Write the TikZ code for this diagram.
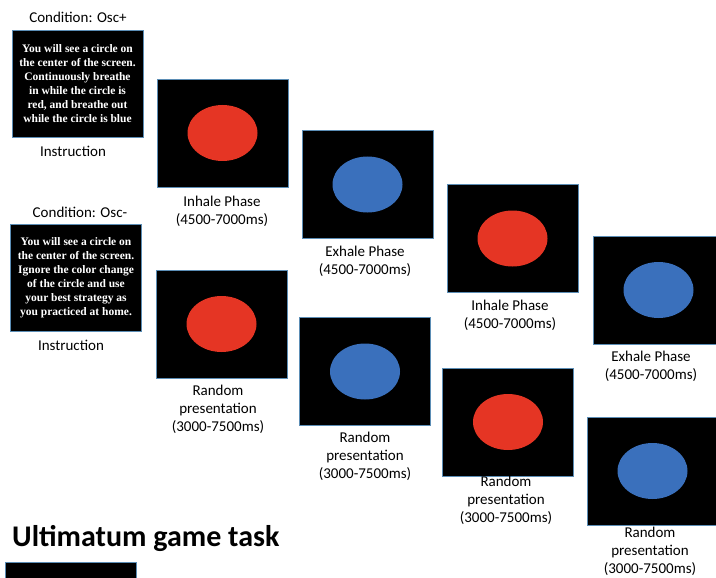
\documentclass[tikz,border=0pt]{standalone}
\usepackage{fontspec}
\setmainfont{Carlito}
\newfontfamily\instrfont{Liberation Serif}
\usetikzlibrary{shapes.geometric}
\definecolor{frame}{HTML}{5B8DB5}
\definecolor{dotred}{HTML}{E53524}
\definecolor{dotblue}{HTML}{3A70BC}
\tikzset{
  screen/.style={draw=frame, line width=0.8pt, fill=black, minimum width=131pt, minimum height=108pt, inner sep=0pt},
  instrbox/.style={draw=frame, line width=0.8pt, fill=black, minimum width=131pt, minimum height=107pt, inner sep=0pt,
    text=white, align=center, font=\instrfont\bfseries\fontsize{11.5}{14}\selectfont},
  reddot/.style={ellipse, fill=dotred, minimum width=70pt, minimum height=56pt, inner sep=0pt},
  bluedot/.style={ellipse, fill=dotblue, minimum width=70pt, minimum height=56pt, inner sep=0pt},
  caption/.style={align=center, font=\fontsize{15}{18}\selectfont, inner sep=0pt},
}
\begin{document}
\begin{tikzpicture}[x=1pt,y=-1pt]
\useasboundingbox (0,0) rectangle (716,578);
\clip (0,0) rectangle (716,578);

% Osc+ condition
\node[caption] (condA) at (78,17) {Condition: Osc+};
\node[instrbox] (instrA) at (77.5,83.5) {You will see a circle on\\the center of the screen.\\Continuously breathe\\in while the circle is\\red, and breathe out\\while the circle is blue};
\node[caption] (instrAlab) at (73,151) {Instruction};

\node[screen] (s1) at (222.5,133) {};
\node[reddot] (d1) at (s1.center) {};
\node[caption] (l1) at (222,211.5) {Inhale Phase\\(4500-7000ms)};

\node[screen] (s2) at (367.5,184.5) {};
\node[bluedot] (d2) at (s2.center) {};
\node[caption] (l2) at (365,261) {Exhale Phase\\(4500-7000ms)};

\node[screen] (s3) at (512.5,238.5) {};
\node[reddot] (d3) at (s3.center) {};
\node[caption] (l3) at (510,315) {Inhale Phase\\(4500-7000ms)};

\node[screen] (s4) at (658.5,290) {};
\node[bluedot] (d4) at (s4.center) {};
\node[caption] (l4) at (651,366) {Exhale Phase\\(4500-7000ms)};

% Osc- condition
\node[caption] (condB) at (80,212) {Condition: Osc-};
\node[instrbox] (instrB) at (76,277.5) {You will see a circle on\\the center of the screen.\\Ignore the color change\\of the circle and use\\your best strategy as\\you practiced at home.};
\node[caption] (instrBlab) at (71,345) {Instruction};

\node[screen] (s5) at (221.5,324) {};
\node[reddot] (d5) at (s5.center) {};
\node[caption] (l5) at (218,409) {Random\\presentation\\(3000-7500ms)};

\node[screen] (s6) at (365,371.5) {};
\node[bluedot] (d6) at (s6.center) {};
\node[caption] (l6) at (365,456) {Random\\presentation\\(3000-7500ms)};

\node[screen] (s7) at (508,422) {};
\node[reddot] (d7) at (s7.center) {};
\node[caption] (l7) at (506,500) {Random\\presentation\\(3000-7500ms)};

\node[screen] (s8) at (652.5,471) {};
\node[bluedot] (d8) at (s8.center) {};
\node[caption] (l8) at (650,551) {Random\\presentation\\(3000-7500ms)};

% Next task heading
\node[anchor=base west, inner sep=0pt, font=\bfseries\fontsize{30}{36}\selectfont] (ug) at (12,546) {Ultimatum game task};
\node[screen, minimum height=24pt, anchor=north west] (ugscreen) at (5,562) {};
\end{tikzpicture}
\end{document}
